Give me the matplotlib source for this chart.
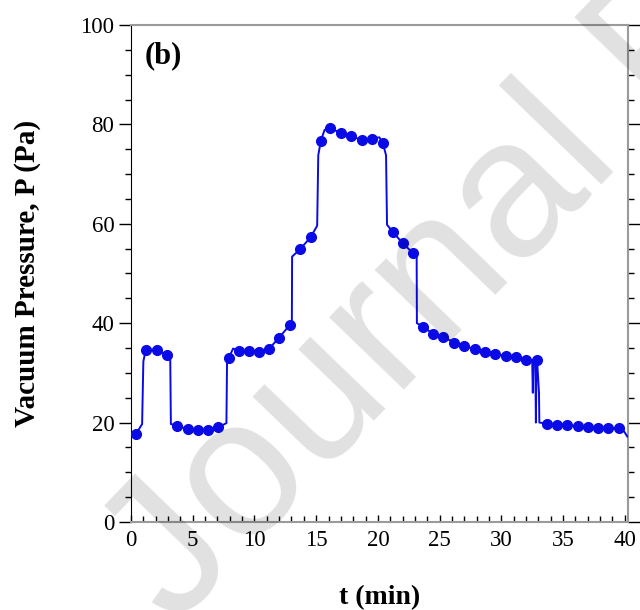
import matplotlib.pyplot as plt
from matplotlib.ticker import MultipleLocator

t_mark = [0.4, 1.2, 2.07, 2.9, 3.74, 4.58, 5.42, 6.25, 7.08, 7.9, 8.73, 9.56,
          10.4, 11.2, 12.0, 12.85, 13.7, 14.55, 15.38, 16.16, 17.0, 17.85, 18.7,
          19.5, 20.4, 21.2, 22.0, 22.85, 23.65, 24.5, 25.3, 26.2, 27.0, 27.85,
          28.7, 29.5, 30.4, 31.2, 32.0, 32.9, 33.7, 34.5, 35.3, 36.2, 37.0,
          37.8, 38.65, 39.5]
p_mark = [17.7, 34.7, 34.7, 33.6, 19.4, 18.65, 18.5, 18.5, 19.05, 32.9, 34.4,
          34.5, 34.3, 34.9, 37.1, 39.6, 54.9, 57.3, 76.7, 79.3, 78.2, 77.7, 76.8,
          77.1, 76.2, 58.4, 56.1, 54.1, 39.3, 37.8, 37.2, 36.1, 35.4, 34.8, 34.2,
          33.8, 33.4, 33.1, 32.6, 32.5, 19.8, 19.6, 19.5, 19.3, 19.1, 19.0, 18.9,
          18.9]

# continuous recording (line)
t_line = [0.0, 0.4, 0.9, 1.0, 1.2, 2.07, 2.9, 3.18, 3.23, 3.74, 4.58, 5.42, 6.25,
          7.08, 7.73, 7.78, 7.9, 8.27, 8.73, 9.56, 10.4, 11.2, 12.0, 12.85, 13.03,
          13.05, 13.7, 14.55, 15.08, 15.17, 15.38, 15.68, 16.16, 17.0, 17.85, 18.7,
          19.5, 20.12, 20.4, 20.66, 20.74, 21.2, 22.0, 22.85, 23.14, 23.16, 23.65,
          24.5, 25.3, 26.2, 27.0, 27.85, 28.7, 29.5, 30.4, 31.2, 32.0, 32.5, 32.55,
          32.6, 32.75, 32.8, 32.85, 32.9, 33.05, 33.08, 33.7, 34.5, 35.3, 36.2,
          37.0, 37.8, 38.65, 39.5, 39.9, 40.2]
p_line = [17.8, 17.7, 19.7, 32.3, 34.7, 34.7, 33.6, 32.6, 19.7, 19.4, 18.65, 18.5,
          18.5, 19.05, 19.9, 32.5, 32.9, 34.9, 34.4, 34.5, 34.3, 34.9, 37.1, 39.6,
          39.8, 53.4, 54.9, 57.3, 59.6, 73.8, 76.7, 78.9, 79.3, 78.2, 77.7, 76.8,
          77.1, 77.4, 76.2, 73.8, 59.8, 58.4, 56.1, 54.1, 53.6, 40.0, 39.3, 37.8,
          37.2, 36.1, 35.4, 34.8, 34.2, 33.8, 33.4, 33.1, 32.6, 32.5, 26.0, 32.5,
          32.5, 20.0, 32.5, 32.5, 26.0, 20.0, 19.8, 19.6, 19.5, 19.3, 19.1, 19.0,
          18.9, 18.9, 18.4, 17.2]

plt.rcParams['font.family'] = 'Liberation Serif'
blue = '#0a0ae6'
grey = '#9a9a9a'

fig = plt.figure(figsize=(6.4, 6.1), dpi=100)
ax = fig.add_axes([0.2047, 0.1443, 0.7773, 0.8147])

ax.plot(t_line, p_line, color=blue, lw=1.4, zorder=3)
ax.plot(t_mark, p_mark, 'o', color=blue, ms=7, zorder=4)

ax.set_xlim(0, 40.3)
ax.set_ylim(0, 100)

ax.xaxis.set_major_locator(MultipleLocator(5))
ax.xaxis.set_minor_locator(MultipleLocator(1))
ax.yaxis.set_major_locator(MultipleLocator(20))
ax.yaxis.set_minor_locator(MultipleLocator(5))

ax.tick_params(axis='x', which='both', direction='in', top=False, labelsize=16.5,
               pad=6)
ax.tick_params(axis='x', which='major', length=5, width=1)
ax.tick_params(axis='x', which='minor', length=4, width=1)
ax.tick_params(axis='y', which='both', direction='out', right=True, labelsize=16.5,
               pad=3)
ax.tick_params(axis='y', which='major', length=9, width=1)
ax.tick_params(axis='y', which='minor', length=4, width=1)

ax.spines['left'].set_color('black')
for s in ['top', 'right', 'bottom']:
    ax.spines[s].set_color(grey)
    ax.spines[s].set_linewidth(1.5)

ax.set_xlabel('t (min)', fontsize=20, fontweight='bold', labelpad=24)
ax.set_ylabel('Vacuum Pressure, P (Pa)', fontsize=21, fontweight='bold',
              labelpad=28)
ax.text(0.028, 0.968, '(b)', transform=ax.transAxes, fontsize=22,
        fontweight='bold', va='top', ha='left')

# watermark
fig.text(0.272, -0.028, 'Journal Pre-proof', fontsize=142,
         family='Liberation Sans', rotation=46, rotation_mode='anchor',
         color='black', alpha=0.12, ha='left', va='baseline', zorder=10)

plt.savefig('out.png', dpi=100)
